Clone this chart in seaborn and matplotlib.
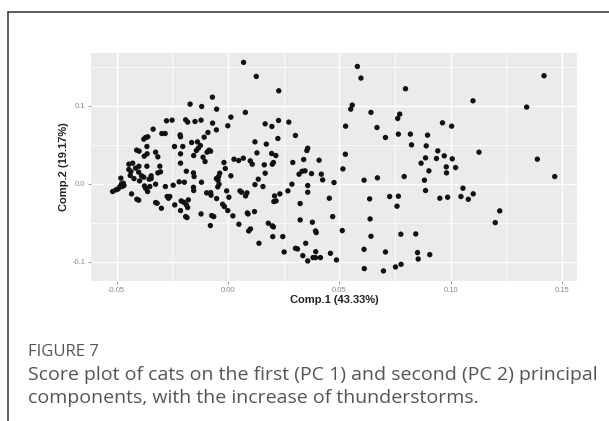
import numpy as np
import pandas as pd
import matplotlib
matplotlib.use("Agg")
import matplotlib.pyplot as plt
import seaborn as sns
from matplotlib.lines import Line2D

# ---- data ----
comp1 = [
    0.0070, 0.0127, 0.0228, -0.0070, -0.0170, -0.0118, -0.0051, 0.0078, 0.0013, -0.0276,
    -0.0251, -0.0190, -0.0181, -0.0148, -0.0121, -0.0069, -0.0001, 0.0167, 0.0197, 0.0227,
    0.0273, -0.0052, -0.0336, -0.0297, -0.0282, -0.0215, -0.0213, 0.0224, 0.0303, -0.0370,
    -0.0360, -0.0378, -0.0090, -0.0107, 0.0121, -0.0163, -0.0137, -0.0124, -0.0133, -0.0142,
    0.0172, 0.0358, 0.0354, -0.0364, -0.0410, -0.0399, -0.0203, -0.0240, -0.0325, -0.0315,
    -0.0363, -0.0376, -0.0085, -0.0094, -0.0078, 0.0196, 0.0215, 0.0130, -0.0154, -0.0112,
    -0.0213, -0.0213, -0.0103, 0.0027, 0.0048, 0.0069, 0.0100, 0.0109, -0.0018, 0.0340,
    0.0409, 0.0291, 0.0163, 0.0199, 0.0204, 0.0333, -0.0445, -0.0428, -0.0400, -0.0364,
    -0.0306, -0.0303, -0.0315, -0.0415, -0.0445, -0.0436, -0.0401, -0.0439, -0.0422, -0.0397,
    -0.0378, -0.0345, -0.0388, -0.0354, -0.0345, -0.0187, -0.0119, -0.0155, -0.0152, -0.0012,
    0.0013, -0.0037, -0.0042, -0.0052, -0.0045, 0.0136, 0.0167, 0.0319, 0.0346, 0.0375,
    0.0419, 0.0425, 0.0476, 0.0358, 0.0358, 0.0287, 0.0269, 0.0233, 0.0209, 0.0206,
    0.0216, 0.0157, 0.0121, -0.0040, -0.0046, -0.0006, 0.0054, 0.0061, 0.0085, 0.0079,
    -0.0096, -0.0078, -0.0076, -0.0051, 0.0004, -0.0016, -0.0024, -0.0001, 0.0022, 0.0049,
    -0.0073, -0.0064, -0.0121, -0.0079, 0.0087, 0.0090, 0.0119, 0.0101, 0.0093, 0.0139,
    0.0201, 0.0246, 0.0181, 0.0199, 0.0204, 0.0324, 0.0324, 0.0379, 0.0396, 0.0393,
    0.0349, 0.0358, 0.0336, 0.0382, 0.0393, 0.0415, 0.0394, 0.0303, 0.0312, 0.0252,
    0.0460, 0.0470, 0.0455,
    -0.0518, -0.0503, -0.0493, -0.0485, -0.0478, -0.0481, -0.0470, -0.0467, -0.0475, -0.0433,
    -0.0409, -0.0401, -0.0375, -0.0370, -0.0351, -0.0361, -0.0325, -0.0325, -0.0318, -0.0299,
    -0.0281, -0.0273, -0.0267, -0.0261, -0.0239, -0.0246, -0.0219, -0.0213, -0.0210, -0.0199,
    -0.0196, -0.0187, -0.0181, -0.0178, -0.0190, -0.0184, -0.0155, -0.0154,
    0.0581, 0.0597, 0.0797, 0.1100, 0.1419, 0.1341, 0.0558, 0.0551, 0.0642, 0.0771,
    0.0762, 0.0963, 0.1004, 0.0528, 0.0669, 0.0707, 0.0765, 0.0819, 0.0896, 0.0824,
    0.0890, 0.0527, 0.0942, 0.0971, 0.1127, 0.0887, 0.0936, 0.1007, 0.0867, 0.0980,
    0.1022, 0.0902, 0.0981, 0.1389, 0.0516, 0.0611, 0.0671, 0.0791, 0.0882, 0.0887,
    0.1467, 0.1055, 0.1101, 0.0636, 0.0726, 0.0765, 0.0759, 0.0951, 0.0986, 0.1046,
    0.1079, 0.1220, 0.1200, 0.0638, 0.0513, 0.0642, 0.0776, 0.0843, 0.0611, 0.0707,
    0.0851, 0.0854, 0.0906, 0.0487, 0.0612, 0.0698, 0.0752, 0.0777,
]
comp2 = [
    0.1556, 0.1376, 0.1192, 0.1111, 0.1021, 0.0991, 0.0957, 0.0915, 0.0855, 0.0808,
    0.0816, 0.0821, 0.0791, 0.0799, 0.0816, 0.0778, 0.0744, 0.0769, 0.0735, 0.0812,
    0.0791, 0.0692, 0.0701, 0.0645, 0.0645, 0.0628, 0.0603, 0.0581, 0.0620, 0.0594,
    0.0603, 0.0573, 0.0658, 0.0598, 0.0538, 0.0530, 0.0538, 0.0491, 0.0457, 0.0427,
    0.0509, 0.0457, 0.0427, 0.0479, 0.0432, 0.0419, 0.0479, 0.0479, 0.0406, 0.0346,
    0.0385, 0.0355, 0.0432, 0.0406, 0.0419, 0.0389, 0.0363, 0.0397, 0.0363, 0.0342,
    0.0385, 0.0265, 0.0286, 0.0316, 0.0299, 0.0329, 0.0295, 0.0252, 0.0274, 0.0312,
    0.0303, 0.0274, 0.0244, 0.0252, 0.0274, 0.0162, 0.0252, 0.0265, 0.0226, 0.0226,
    0.0226, 0.0154, 0.0141, 0.0201, 0.0184, 0.0158, 0.0150, 0.0107, 0.0068, 0.0038,
    0.0085, 0.0103, 0.0103, 0.0060, 0.0068, 0.0162, 0.0021, 0.0141, 0.0094, 0.0197,
    0.0103, 0.0137, 0.0094, 0.0068, 0.0047, 0.0060, 0.0137, 0.0124, 0.0167, 0.0132,
    0.0124, 0.0051, 0.0017, -0.0021, -0.0107, -0.0004, -0.0090, -0.0128, -0.0154, -0.0226,
    -0.0218, -0.0034, -0.0009, -0.0004, -0.0038, -0.0090, -0.0090, -0.0107, -0.0115, -0.0154,
    -0.0115, -0.0111, -0.0145, -0.0188, -0.0171, -0.0291, -0.0261, -0.0342, -0.0410, -0.0517,
    -0.0406, -0.0419, -0.0385, -0.0534, -0.0372, -0.0385, -0.0355, -0.0577, -0.0603, -0.0761,
    -0.0675, -0.0675, -0.0504, -0.0538, -0.0551, -0.0462, -0.0252, -0.0491, -0.0624, -0.0603,
    -0.0761, -0.0987, -0.0919, -0.0944, -0.0944, -0.0944, -0.0868, -0.0825, -0.0833, -0.0872,
    -0.0889, -0.0419, -0.0184,
    -0.0098, -0.0077, -0.0064, -0.0034, 0.0000, 0.0073, 0.0009, -0.0021, -0.0034, -0.0128,
    -0.0197, -0.0209, -0.0026, -0.0056, -0.0034, -0.0098, -0.0004, -0.0239, -0.0248, -0.0312,
    -0.0034, -0.0162, -0.0184, -0.0162, -0.0269, -0.0017, 0.0026, -0.0342, -0.0218, -0.0235,
    0.0021, -0.0269, -0.0303, -0.0205, -0.0419, -0.0432, -0.0043, -0.0085,
    0.1504, 0.1355, 0.1218, 0.1064, 0.1385, 0.0983, 0.1009, 0.0957, 0.0915, 0.0893,
    0.0838, 0.0782, 0.0739, 0.0739, 0.0722, 0.0594, 0.0637, 0.0637, 0.0624, 0.0500,
    0.0487, 0.0380, 0.0423, 0.0359, 0.0406, 0.0333, 0.0325, 0.0321, 0.0265, 0.0218,
    0.0209, 0.0167, 0.0141, 0.0316, 0.0192, 0.0047, 0.0077, 0.0094, 0.0047, -0.0085,
    0.0094, -0.0056, -0.0128, -0.0192, -0.0162, -0.0158, -0.0286, -0.0184, -0.0171, -0.0162,
    -0.0197, -0.0346, -0.0496, -0.0449, -0.0598, -0.0671, -0.0645, -0.0641, -0.0838, -0.0872,
    -0.0880, -0.0962, -0.0906, -0.0974, -0.1085, -0.1115, -0.1064, -0.1030,
]
x_ticks = [-0.05, 0.00, 0.05, 0.10, 0.15]
x_tick_labels = ["-0.05", "0.00", "0.05", "0.10", "0.15"]
y_ticks = [-0.1, 0.0, 0.1]
y_tick_labels = ["-0.1", "0.0", "0.1"]
x_minor = [-0.025, 0.025, 0.075, 0.125]
y_minor = [-0.05, 0.05, 0.15]
x_label = "Comp.1 (43.33%)"
y_label = "Comp.2 (19.17%)"
fig_label = "FIGURE 7"
caption_lines = [
    "Score plot of cats on the first (PC 1) and second (PC 2) principal",
    "components, with the increase of thunderstorms.",
]

df = pd.DataFrame({"comp1": comp1, "comp2": comp2})

sns.set_theme(style="darkgrid")
plt.rcParams["font.family"] = ["Liberation Sans", "DejaVu Sans"]

W, H = 609, 421
fig = plt.figure(figsize=(W / 100, H / 100), dpi=100)
fig.patch.set_facecolor("white")

ax_l, ax_r, ax_t, ax_b = 91, 577, 52.7, 280.7
ax = fig.add_axes([ax_l / W, 1 - ax_b / H, (ax_r - ax_l) / W, (ax_b - ax_t) / H])
ax.set_facecolor("#EBEBEB")

sns.scatterplot(data=df, x="comp1", y="comp2", ax=ax, color="#111111",
                s=15, edgecolor="none", linewidth=0, zorder=3)

ax.set_xlim(-0.0615, 0.1567)
ax.set_ylim(-0.124, 0.168)

ax.set_xticks(x_ticks)
ax.set_xticklabels(x_tick_labels)
ax.set_yticks(y_ticks)
ax.set_yticklabels(y_tick_labels)
ax.set_xticks(x_minor, minor=True)
ax.set_yticks(y_minor, minor=True)
ax.grid(which="major", color="white", linewidth=1.0)
ax.grid(which="minor", color="white", linewidth=0.5)
ax.set_axisbelow(True)
for sp in ax.spines.values():
    sp.set_visible(False)

ax.tick_params(axis="both", which="major", length=2.2, width=0.6, color="#8a8a8a",
               labelsize=5.5, labelcolor="#888888", pad=2, bottom=True, left=True)
ax.tick_params(axis="both", which="minor", length=0)

ax.set_xlabel(x_label, fontsize=8, fontweight="bold", color="#222222", labelpad=1)
ax.set_ylabel(y_label, fontsize=8, fontweight="bold", color="#222222", labelpad=2)

# Caption
cap_font = ["Open Sans", "DejaVu Sans"]
fig.text(28 / W, 1 - 352 / H, fig_label, fontsize=12, color="#555555",
         family=cap_font, va="center", ha="left")
fig.text(28 / W, 1 - 375 / H, caption_lines[0], fontsize=14, color="#555555",
         family=cap_font, va="center", ha="left")
fig.text(28 / W, 1 - 398 / H, caption_lines[1], fontsize=14, color="#555555",
         family=cap_font, va="center", ha="left")

# Frame lines (top and left)
fig.add_artist(Line2D([8 / W, 1.0], [1 - 11.5 / H, 1 - 11.5 / H], transform=fig.transFigure,
                      color="#333333", linewidth=1.1))
fig.add_artist(Line2D([8 / W, 8 / W], [1 - 11.5 / H, 0.0], transform=fig.transFigure,
                      color="#333333", linewidth=1.1))

fig.savefig("out.png", dpi=100)
